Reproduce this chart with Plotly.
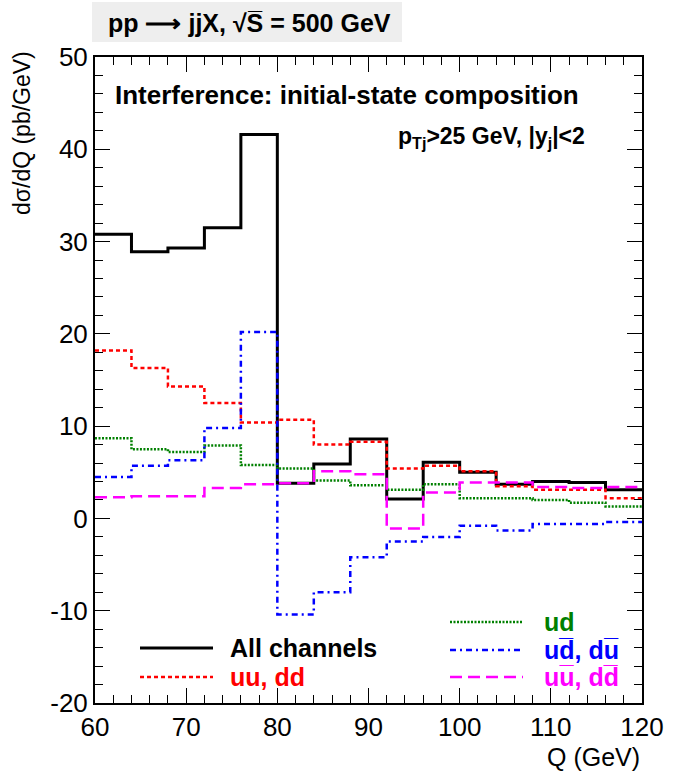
import plotly.graph_objects as go

edges = [60, 64, 68, 72, 76, 80, 84, 88, 92, 96, 100, 104, 108, 112, 116, 120]
all_channels = [30.8, 28.9, 29.3, 31.5, 41.6, 3.8, 5.9, 8.6, 2.1, 6.1, 5.0, 3.7, 4.0, 3.9, 3.1]
uu_dd = [18.2, 16.3, 14.3, 12.5, 10.4, 10.7, 8.0, 8.3, 5.4, 5.7, 5.1, 3.5, 3.1, 3.1, 2.2]
ud = [8.7, 7.5, 7.2, 7.9, 5.8, 5.4, 4.1, 3.6, 3.1, 3.7, 2.2, 2.2, 2.0, 1.7, 1.3]
udbar = [4.5, 5.7, 6.3, 9.8, 20.2, -10.4, -8.0, -4.2, -2.5, -2.0, -0.8, -1.3, -0.6, -0.6, -0.4]
uubar = [2.3, 2.4, 2.4, 3.3, 3.7, 3.8, 5.1, 4.8, -1.1, 2.8, 3.9, 3.9, 3.4, 3.3, 3.4]
y_ticks = [-20, -10, 0, 10, 20, 30, 40, 50]
y_ticktext = ["-20", "-10", "0", "10", "20", "30", "40", "50"]

FONT = "Liberation Sans"
series = [
    ("All channels", all_channels, "black", "solid", 3),
    ("uu, dd", uu_dd, "#ff0000", "4px,3px", 2.5),
    ("ud", ud, "#008000", "2px,1.5px", 2.5),
    ("ud\u0305, du\u0305", udbar, "#0000ff", "6px,4px,2px,4px", 2.5),
    ("uu\u0305, dd\u0305", uubar, "#ff00ff", "12px,6px", 2.5),
]

fig = go.Figure()
for name, vals, col, dash, w in series:
    fig.add_trace(go.Scatter(x=edges, y=list(vals) + [vals[-1]], mode="lines",
                             line=dict(shape="hv", color=col, dash=dash, width=w),
                             showlegend=False, name=name))

# paper coordinate helpers (plot area px: x 95..642, y 57..703)
def px(x):
    return (x - 95) / 547.0

def py(y):
    return (703 - y) / 646.0

ann = []
shapes = []
# title box
shapes.append(dict(type="rect", xref="paper", yref="paper", x0=px(92), x1=px(402), y0=py(42), y1=py(2),
                   fillcolor="#eeeeee", line=dict(width=0), layer="below"))
ann.append(dict(text="pp \u27f6 jjX, \u221aS\u0305 = 500 GeV",
                xref="paper", yref="paper", x=px(249), y=py(23),
                xanchor="center", yanchor="middle", showarrow=False,
                font=dict(family=FONT, size=25, color="black", weight="bold")))
ann.append(dict(text="Interference: initial-state composition", xref="paper", yref="paper", x=px(113), y=py(95),
                xanchor="left", yanchor="middle", showarrow=False,
                font=dict(family=FONT, size=26, color="black", weight="bold")))
ann.append(dict(text="p<sub>Tj</sub>&gt;25 GeV, |y<sub>j</sub>|&lt;2", xref="paper", yref="paper", x=px(587), y=py(137),
                xanchor="right", yanchor="middle", showarrow=False,
                font=dict(family=FONT, size=23, color="black", weight="bold")))
ann.append(dict(text="d\u03c3/dQ (pb/GeV)", xref="paper", yref="paper", x=px(22), y=py(133),
                xanchor="center", yanchor="middle", textangle=-90, showarrow=False,
                font=dict(family=FONT, size=23, color="black")))
ann.append(dict(text="Q (GeV)", xref="paper", yref="paper", x=1.0, y=py(757),
                xanchor="right", yanchor="middle", showarrow=False,
                font=dict(family=FONT, size=25, color="black")))

# legend
leg = [
    (series[0], 140, 213, 648, 228),
    (series[1], 140, 213, 677, 228),
    (series[2], 450, 523, 622, 542),
    (series[3], 450, 523, 650, 542),
    (series[4], 450, 523, 677, 542),
]
for (name, vals, col, dash, w), x0, x1, yy, tx in leg:
    shapes.append(dict(type="line", xref="paper", yref="paper", x0=px(x0), x1=px(x1), y0=py(yy), y1=py(yy),
                       line=dict(color=col, dash=dash, width=w)))
    ann.append(dict(text=name, xref="paper", yref="paper",
                    x=px(tx), y=py(yy), xanchor="left", yanchor="middle", showarrow=False,
                    font=dict(family=FONT, size=25, color=col, weight="bold")))

axis_common = dict(showline=True, linecolor="black", linewidth=2, mirror="allticks", ticks="inside",
                   ticklen=15, tickwidth=1, tickcolor="black", showgrid=False, zeroline=False,
                   tickfont=dict(family=FONT, size=26, color="black"))
fig.update_xaxes(range=[60, 120], dtick=10, tick0=60,
                 minor=dict(dtick=2, ticks="inside", ticklen=8, tickcolor="black", tickwidth=1, showgrid=False),
                 **axis_common)
fig.update_yaxes(range=[-20, 50], tickmode="array", tickvals=y_ticks, ticktext=y_ticktext,
                 minor=dict(dtick=2, tick0=0, ticks="inside", ticklen=8, tickcolor="black", tickwidth=1, showgrid=False),
                 **axis_common)
fig.update_layout(width=683, height=774, margin=dict(l=95, r=41, t=57, b=71),
                  plot_bgcolor="white", paper_bgcolor="white", annotations=ann, shapes=shapes,
                  showlegend=False)
fig.write_html("out.html")
